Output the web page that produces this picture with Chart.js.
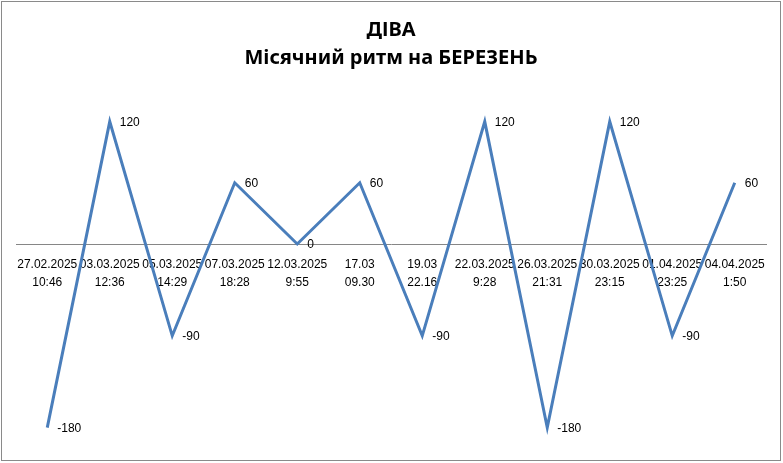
<!DOCTYPE html>
<html>
<head>
<meta charset="utf-8">
<script src="https://cdn.jsdelivr.net/npm/chart.js@4"></script>
<style>
html,body{margin:0;padding:0;background:#fff;}
#wrap{width:783px;height:463px;position:relative;}
</style>
</head>
<body>
<div id="wrap"><canvas id="c" width="783" height="463"></canvas></div>
<script>
const titleLines = ["ДІВА", "Місячний ритм на БЕРЕЗЕНЬ"];
const categories = [
  ["27.02.2025", "10:46"],
  ["03.03.2025", "12:36"],
  ["05.03.2025", "14:29"],
  ["07.03.2025", "18:28"],
  ["12.03.2025", "9:55"],
  ["17.03", "09.30"],
  ["19.03", "22.16"],
  ["22.03.2025", "9:28"],
  ["26.03.2025", "21:31"],
  ["30.03.2025", "23:15"],
  ["01.04.2025", "23:25"],
  ["04.04.2025", "1:50"]
];
const values = [-180, 120, -90, 60, 0, 60, -90, 120, -180, 120, -90, 60];

const pointLabels = {
  id: 'pointLabels',
  afterDatasetsDraw(chart) {
    const ctx = chart.ctx;
    const meta = chart.getDatasetMeta(0);
    ctx.save();
    ctx.font = '12px "Liberation Sans", Arial, sans-serif';
    ctx.fillStyle = '#000';
    ctx.textAlign = 'left';
    ctx.textBaseline = 'middle';
    meta.data.forEach((pt, i) => {
      ctx.fillText(String(values[i]), pt.x + 10, pt.y + 1);
    });
    ctx.restore();
  }
};
const frame = {
  id: 'frame',
  afterDraw(chart) {
    const ctx = chart.ctx;
    ctx.save();
    ctx.strokeStyle = '#8a8a8a';
    ctx.lineWidth = 1;
    ctx.strokeRect(1.5, 1.5, chart.width - 4, chart.height - 4);
    ctx.restore();
  }
};

new Chart(document.getElementById('c'), {
  type: 'line',
  data: {
    labels: categories,
    datasets: [{
      data: values,
      borderColor: '#4A7EBB',
      borderWidth: 3,
      borderJoinStyle: 'miter',
      pointRadius: 0,
      pointHoverRadius: 0,
      tension: 0,
      fill: false
    }]
  },
  options: {
    responsive: false,
    animation: false,
    devicePixelRatio: 1,
    layout: { padding: { left: 16, right: 17, top: 0, bottom: 15 } },
    plugins: {
      legend: { display: false },
      tooltip: { enabled: false },
      title: {
        display: true,
        text: titleLines,
        color: '#000',
        font: { family: '"Noto Sans", sans-serif', size: 20, weight: 'bold', lineHeight: '28px' },
        padding: { top: 16, bottom: 19 }
      }
    },
    scales: {
      x: {
        type: 'category',
        offset: true,
        position: { y: 0 },
        grid: { display: false, drawTicks: false },
        border: { display: true, color: '#868686', width: 1 },
        ticks: {
          autoSkip: false,
          maxRotation: 0,
          minRotation: 0,
          padding: 12,
          color: '#000',
          font: { family: '"Liberation Sans", Arial, sans-serif', size: 12, lineHeight: 1.5 }
        }
      },
      y: {
        display: false,
        min: -200,
        max: 150
      }
    }
  },
  plugins: [pointLabels, frame]
});
</script>
</body>
</html>
